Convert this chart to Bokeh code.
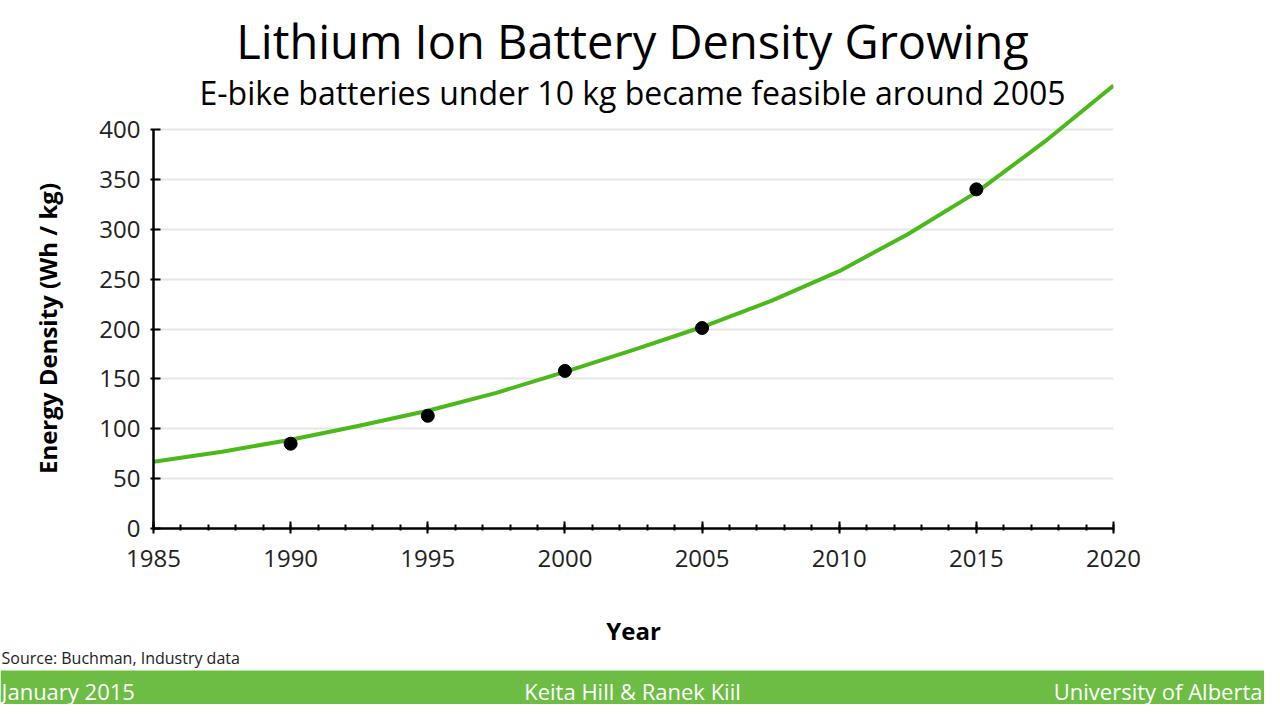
import math
from bokeh.plotting import figure
from bokeh.models import FixedTicker, Label
from bokeh.layouts import column, row
from bokeh.core.properties import value
from bokeh.embed import file_html
from bokeh.resources import INLINE

# ---- data ----
point_years = [1990, 1995, 2000, 2005, 2015]
point_density = [85, 113, 158, 201, 340]

curve_years = [1985, 1987.5, 1990, 1992.5, 1995, 1997.5, 2000, 2002.5,
               2005, 2007.5, 2010, 2012.5, 2015, 2017.5, 2020]
curve_density = [67, 77, 89, 103, 118, 136, 157, 179,
                 202, 228, 258, 295, 337, 388, 444]

x_major_ticks = [1985, 1990, 1995, 2000, 2005, 2010, 2015, 2020]
x_minor_ticks = list(range(1985, 2021))
y_ticks = [0, 50, 100, 150, 200, 250, 300, 350, 400]

title_text = "Lithium Ion Battery Density Growing"
subtitle_text = "E-bike batteries under 10 kg became feasible around 2005"
x_label = "Year"
y_label = "Energy Density (Wh / kg)"
source_text = "Source: Buchman, Industry data"
footer_left = "January 2015"
footer_center = "Keita Hill & Ranek Kiil"
footer_right = "University of Alberta"

FONT = "Open Sans"
GREEN_LINE = "#4cb91b"
GREEN_BAR = "#6dbd45"

W = 1264
STRIP_W = 90
MAIN_H = 600
FOOT_H = 104
FRAME_L, FRAME_R = 153, 151
FRAME_H = 528
PX_PER_UNIT = 0.9975

# ---- main chart ----
p = figure(width=W - STRIP_W, height=MAIN_H, x_range=(1985, 2020),
           y_range=(0, FRAME_H / PX_PER_UNIT),
           output_backend="svg", toolbar_location=None,
           min_border_left=FRAME_L - STRIP_W, min_border_right=FRAME_R,
           min_border_top=0, min_border_bottom=MAIN_H - FRAME_H)
p.frame_align = False
p.outline_line_color = None
p.background_fill_color = "white"
p.border_fill_color = "white"

p.xaxis.ticker = FixedTicker(ticks=x_major_ticks, minor_ticks=x_minor_ticks)
p.yaxis.ticker = FixedTicker(ticks=y_ticks, minor_ticks=[])
p.yaxis.bounds = (0, 400)
for ax in (p.xaxis[0], p.yaxis[0]):
    ax.axis_line_color = "black"
    ax.axis_line_width = 2.5
    ax.major_tick_line_color = "black"
    ax.major_tick_line_width = 2
    ax.minor_tick_line_color = "black"
    ax.minor_tick_line_width = 2
    ax.major_label_text_font = FONT
    ax.major_label_text_font_size = "24px"
    ax.major_label_text_color = "#222222"

p.xaxis.major_tick_in = 7
p.xaxis.major_tick_out = 5
p.xaxis.minor_tick_in = 4
p.xaxis.minor_tick_out = 2
p.xaxis.major_label_standoff = 16

p.yaxis.major_tick_in = 7
p.yaxis.major_tick_out = 3
p.yaxis.major_label_standoff = 10

p.xgrid.grid_line_color = None
p.ygrid.grid_line_color = "#e6e6e6"
p.ygrid.grid_line_width = 2

p.line(curve_years, curve_density, line_color=GREEN_LINE, line_width=4,
       line_join="round")
p.scatter(point_years, point_density, size=13, color="black")

def yr(cx):
    return 1985 + (cx - FRAME_L) / (960 / 35)

def val(cy):
    return (FRAME_H - cy) / PX_PER_UNIT

p.add_layout(Label(x=yr(632), y=val(40), text=title_text, text_font=FONT,
                   text_font_size="47px", text_color="black",
                   text_align="center", text_baseline="middle"))
p.add_layout(Label(x=yr(632), y=val(92), text=subtitle_text, text_font=FONT,
                   text_font_size="32px", text_color="black",
                   text_align="center", text_baseline="middle"))

# ---- left strip with the y-axis title ----
s = figure(width=STRIP_W, height=MAIN_H, x_range=(0, STRIP_W),
           y_range=(0, MAIN_H), output_backend="svg", toolbar_location=None,
           min_border=0, min_border_left=0, min_border_right=0,
           min_border_top=0, min_border_bottom=0)
s.frame_align = False
s.axis.visible = False
s.grid.visible = False
s.outline_line_color = None
s.text(x=[47], y=[MAIN_H - 328], text=[y_label], angle=math.pi / 2,
       text_font=value(FONT), text_font_style="bold", text_font_size="24px",
       text_color="black", text_align="center", text_baseline="middle")

# ---- lower strip: x axis title, source, footer bar ----
f = figure(width=W, height=FOOT_H, x_range=(0, W), y_range=(0, FOOT_H),
           output_backend="svg", toolbar_location=None,
           min_border=0, min_border_left=0, min_border_right=0,
           min_border_top=0, min_border_bottom=0)
f.frame_align = False
f.axis.visible = False
f.grid.visible = False
f.outline_line_color = None
f.background_fill_color = "white"
f.border_fill_color = "white"

f.quad(left=[0], right=[W], bottom=[0], top=[34], fill_color=GREEN_BAR,
       line_color=None)
f.text(x=[FRAME_L + 480], y=[FOOT_H - 30], text=[x_label],
       text_font=value(FONT), text_font_style="bold", text_font_size="24px",
       text_color="black", text_align="center", text_baseline="middle")
f.text(x=[1], y=[FOOT_H - 57], text=[source_text],
       text_font=value(FONT), text_font_size="16px", text_color="#222222",
       text_align="left", text_baseline="middle")
f.text(x=[1, 632, 1262], y=[14, 14, 14],
       text=[footer_left, footer_center, footer_right],
       text_align=["left", "center", "right"],
       text_font=value(FONT), text_font_size="22px", text_color="white",
       text_baseline="middle")

layout = column(row(s, p, spacing=0), f, spacing=0)
open("out.html", "w").write(file_html(layout, INLINE))
